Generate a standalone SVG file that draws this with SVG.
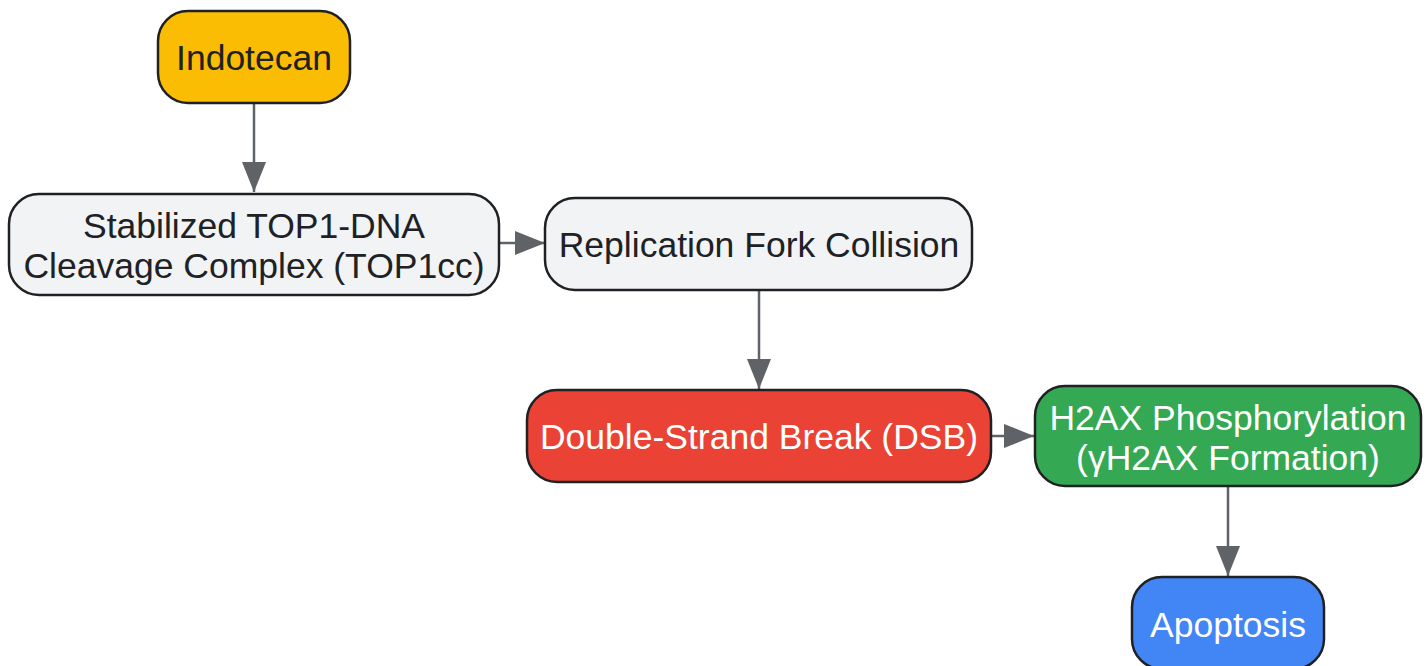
<svg xmlns="http://www.w3.org/2000/svg" width="1428" height="666" viewBox="0 0 1428 666">
<style>
.n{stroke:#202124;stroke-width:2.5}
.t{font-family:"Liberation Sans",Arial,sans-serif;font-size:35.5px;text-anchor:middle;dominant-baseline:central;fill:#202124}
.w{fill:#ffffff}
.e{stroke:#5f6368;stroke-width:2.5;fill:none}
</style>
<defs>
<marker id="a" markerUnits="userSpaceOnUse" markerWidth="30" markerHeight="24" refX="30" refY="12" orient="auto">
<path d="M0,0 L30,12 L0,24 Z" fill="#5f6368"/>
</marker>
</defs>
<rect width="1428" height="666" fill="#ffffff"/>
<g id="connectors">
<line class="e" x1="254" y1="103" x2="254" y2="192" marker-end="url(#a)"/>
<line class="e" x1="499" y1="243" x2="545" y2="243" marker-end="url(#a)"/>
<line class="e" x1="759" y1="290" x2="759" y2="389" marker-end="url(#a)"/>
<line class="e" x1="991" y1="436" x2="1034" y2="436" marker-end="url(#a)"/>
<line class="e" x1="1228" y1="486" x2="1228" y2="576" marker-end="url(#a)"/>
</g>
<g id="indotecan">
<rect class="n" x="158" y="11" width="192" height="92" rx="30" fill="#fbbc04"/>
<text class="t" x="254" y="58">Indotecan</text>
</g>
<g id="top1cc">
<rect class="n" x="9" y="194" width="490" height="101" rx="30" fill="#f1f3f4"/>
<text class="t" x="254" y="226">Stabilized TOP1-DNA</text>
<text class="t" x="254" y="266">Cleavage Complex (TOP1cc)</text>
</g>
<g id="replication">
<rect class="n" x="545" y="198" width="427" height="92" rx="30" fill="#f1f3f4"/>
<text class="t" x="759" y="245">Replication Fork Collision</text>
</g>
<g id="dsb">
<rect class="n" x="527" y="390" width="464" height="92" rx="30" fill="#ea4335"/>
<text class="t w" x="759" y="437">Double-Strand Break (DSB)</text>
</g>
<g id="h2ax">
<rect class="n" x="1035" y="386" width="386" height="100" rx="30" fill="#34a853"/>
<text class="t w" x="1228" y="418">H2AX Phosphorylation</text>
<text class="t w" x="1228" y="458">(γH2AX Formation)</text>
</g>
<g id="apoptosis">
<rect class="n" x="1132" y="577" width="192" height="92" rx="30" fill="#4285f4"/>
<text class="t w" x="1228" y="625">Apoptosis</text>
</g>
</svg>
